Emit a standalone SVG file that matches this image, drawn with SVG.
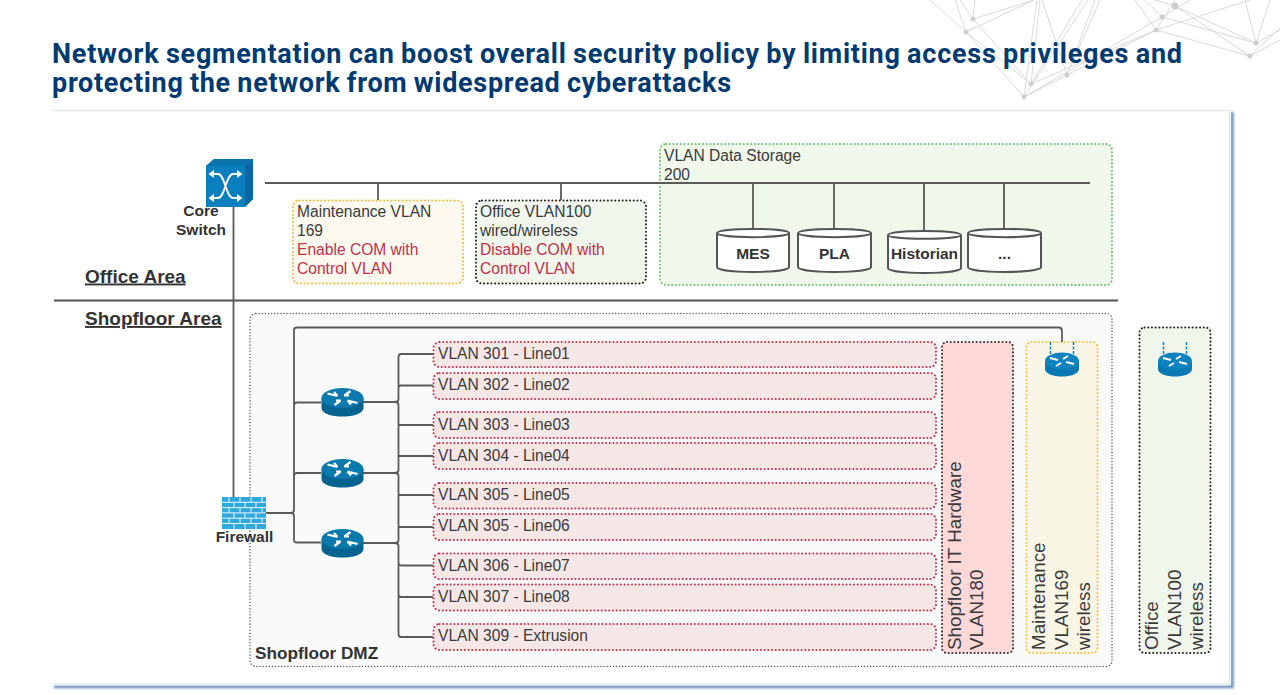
<svg xmlns="http://www.w3.org/2000/svg" width="1280" height="695" viewBox="0 0 1280 695">
<style>
text{font-family:"Liberation Sans",Arial,sans-serif;fill:#3a3a3a}
.t{font-family:Roboto,"Liberation Sans",sans-serif;font-weight:700;font-size:27px;word-spacing:-1px;fill:#003a70}
.l{font-size:15.6px}
.r{font-size:15.6px;fill:#c0304a}
.b{font-size:15.5px;font-weight:700;fill:#333;text-anchor:middle}
.a{font-size:19px;font-weight:700;fill:#333;text-decoration:underline}
.v{font-size:18.8px}
.c{fill:none;stroke:#5a5a5a;stroke-width:1.8}
.box{stroke-width:2;stroke-dasharray:.1 3.6;stroke-linecap:round}
.vl{fill:#f6e7e7;stroke:#c8324f}
.cyl{fill:#fff;stroke:#555;stroke-width:2}
.n{fill:none;stroke:#dadada;stroke-width:1}
.d{fill:#cfcfcf}
</style>
<defs>
<filter id="soft" x="-2%" y="-2%" width="104%" height="104%"><feGaussianBlur stdDeviation="1"/></filter>
<g id="router">
<path d="M-21 -4V6C-21 12 -10 14.500 0 14.500S21 12 21 6V-4Z" fill="#05648f"/>
<ellipse cx="0" cy="-4" rx="21" ry="10" fill="#0a79ab"/>
<path d="M-15 -8.500L-5 -6M-8.500 -10L-5 -6M15 1L5 -1.500M8.500 2.500L5 -1.500M-8 3L-2 -1.500M-6.500 -1.500L-1.500 -1.500M8 -11L2 -6.500M6.500 -6.500L1.500 -6.500" stroke="#fff" stroke-width="2.200" fill="none"/>
</g>
<g id="wrouter">
<path d="M-11.500 -24V-12M11.500 -24V-12" stroke="#0d7fba" stroke-width="1.500" stroke-dasharray="3 1.500"/>
<path d="M-17 -4V3C-17 8 -8 10.500 0 10.500S17 8 17 3V-4Z" fill="#0a78b2"/>
<ellipse cx="0" cy="-5" rx="17" ry="8.500" fill="#0d84c0"/>
<path d="M-12 -8L-4 -6M12 -2L4 -4M-6 0L-1 -3M6 -10L1 -7" stroke="#fff" stroke-width="2" fill="none"/>
</g>
</defs>

<g id="decoration">
<path class="n" d="M930 0L966 32L1024 97M966 32L1031 84M973 19L1031 84M960 0L973 19L1034 0M966 32L1034 0M955 0L966 32M975 0L973 19M1031 84L1040 0M1024 97L1037 0M1024 97L1067 75L1156 30M1031 84L1156 30L1250 0M1024 97L1162 17M1067 75L1042 0M1067 75L1095 0M1067 75L1100 0M1024 97L1088 0M1031 84L1082 0M1156 30L1135 0M1156 30L1175 0M1162 17L1145 0M1162 17L1190 0M1175 6L1155 0M1175 6L1256 43M1156 30L1250 56L1280 40M1162 17L1256 43L1280 30M1175 6L1250 56M1256 43L1245 0M1256 43L1270 0M1250 56L1280 28"/>
<g class="d"><circle cx="966" cy="32" r="2.500"/><circle cx="973" cy="19" r="2.500"/><circle cx="1031" cy="84" r="2.500"/><circle cx="1024" cy="97" r="2.500"/><circle cx="1067" cy="75" r="2.500"/><circle cx="1156" cy="30" r="2.500"/><circle cx="1162" cy="17" r="2.500"/><circle cx="1175" cy="6" r="3.500"/><circle cx="1256" cy="43" r="2.500"/><circle cx="1250" cy="56" r="2.500"/></g>
</g>

<g id="title">
<text class="t" x="52" y="62.500" textLength="1130" lengthAdjust="spacing">Network segmentation can boost overall security policy by limiting access privileges and</text>
<text class="t" x="52" y="91.500" textLength="679" lengthAdjust="spacing">protecting the network from widespread cyberattacks</text>
</g>

<g id="panel">
<path d="M1232 112V686.500H54" stroke="#6f93b8" stroke-width="3.500" fill="none" filter="url(#soft)"/>
<path d="M52 110.500H1230" stroke="#e4e9ef" stroke-width="1.500" fill="none"/>
<path d="M1230.500 110V685H52" stroke="#fff" stroke-width="1" fill="none"/>
</g>

<g id="area-divider"><path d="M54 300.500H1118" stroke="#555" stroke-width="2" fill="none"/></g>
<g id="office-area"><text class="a" x="85" y="282.500">Office Area</text></g>
<g id="shopfloor-area"><text class="a" x="85" y="325">Shopfloor Area</text></g>

<g id="maintenance-vlan">
<rect class="box" x="293" y="200.500" width="170" height="83" rx="6" fill="#fef9ef" stroke="#f5b93c"/>
<text class="l" x="297" y="217">Maintenance VLAN</text><text class="l" x="297" y="236">169</text>
<text class="r" x="297" y="255">Enable COM with</text><text class="r" x="297" y="273.500">Control VLAN</text>
</g>
<g id="office-vlan">
<rect class="box" x="476" y="200.500" width="170" height="83" rx="6" fill="#f0f6ec" stroke="#222"/>
<text class="l" x="480" y="217">Office VLAN100</text><text class="l" x="480" y="236">wired/wireless</text>
<text class="r" x="480" y="255">Disable COM with</text><text class="r" x="480" y="273.500">Control VLAN</text>
</g>
<g id="data-storage">
<rect class="box" x="660" y="144" width="452" height="141" rx="6" fill="#f0f8ec" stroke="#6cc070"/>
<text class="l" x="664" y="161">VLAN Data Storage</text><text class="l" x="664" y="179.500">200</text>
</g>
<g id="dmz">
<rect x="250" y="313.500" width="862" height="353" rx="6" fill="#fafafa" stroke="#666" stroke-width="1.500" stroke-dasharray=".1 3" stroke-linecap="round"/>
<text x="255" y="658.500" style="font-size:17.200px;font-weight:700;fill:#333">Shopfloor DMZ</text>
</g>

<g id="vlan301"><rect class="box vl" x="433.500" y="342" width="502.500" height="25" rx="6"/><text class="l" x="438" y="359">VLAN 301 - Line01</text></g>
<g id="vlan302"><rect class="box vl" x="433.500" y="373" width="502.500" height="26" rx="6"/><text class="l" x="438" y="390">VLAN 302 - Line02</text></g>
<g id="vlan303"><rect class="box vl" x="433.500" y="412" width="502.500" height="26" rx="6"/><text class="l" x="438" y="429.500">VLAN 303 - Line03</text></g>
<g id="vlan304"><rect class="box vl" x="433.500" y="443" width="502.500" height="26" rx="6"/><text class="l" x="438" y="460.500">VLAN 304 - Line04</text></g>
<g id="vlan305a"><rect class="box vl" x="433.500" y="483" width="502.500" height="25.500" rx="6"/><text class="l" x="438" y="499.500">VLAN 305 - Line05</text></g>
<g id="vlan305b"><rect class="box vl" x="433.500" y="514" width="502.500" height="26" rx="6"/><text class="l" x="438" y="530.500">VLAN 305 - Line06</text></g>
<g id="vlan306"><rect class="box vl" x="433.500" y="553.500" width="502.500" height="25.500" rx="6"/><text class="l" x="438" y="570.500">VLAN 306 - Line07</text></g>
<g id="vlan307"><rect class="box vl" x="433.500" y="584.500" width="502.500" height="26" rx="6"/><text class="l" x="438" y="601.500">VLAN 307 - Line08</text></g>
<g id="vlan309"><rect class="box vl" x="433.500" y="624" width="502.500" height="26" rx="6"/><text class="l" x="438" y="640.500">VLAN 309 - Extrusion</text></g>

<g id="it-hardware">
<rect class="box" x="942" y="342" width="71" height="311" rx="5" fill="#ffd8d8" stroke="#333"/>
<text class="v" transform="translate(961 650) rotate(-90)">Shopfloor IT Hardware</text>
<text class="v" transform="translate(983 650) rotate(-90)">VLAN180</text>
</g>
<g id="maintenance-wireless">
<rect class="box" x="1026.500" y="342" width="71" height="311" rx="5" fill="#faf6e6" stroke="#f5c242"/>
<text class="v" transform="translate(1045 650) rotate(-90)">Maintenance</text>
<text class="v" transform="translate(1067.500 650) rotate(-90)">VLAN169</text>
<text class="v" transform="translate(1090 650) rotate(-90)">wireless</text>
</g>
<g id="office-wireless">
<rect class="box" x="1139.500" y="327.500" width="71" height="325.500" rx="5" fill="#f0f6ec" stroke="#222"/>
<text class="v" transform="translate(1158 650) rotate(-90)">Office</text>
<text class="v" transform="translate(1180.500 650) rotate(-90)">VLAN100</text>
<text class="v" transform="translate(1203 650) rotate(-90)">wireless</text>
</g>

<g id="connectors">
<path class="c" d="M233.500 207V497"/>
<path class="c" d="M265 183H1090M378 183V200M561 183V200M753 183V229M834 183V229M924 183V231M1004 183V229"/>
<path class="c" d="M266 513H291Q294 513 294 510V330Q294 327.500 297 327.500H1059Q1062 327.500 1062 331V342"/>
<path class="c" d="M294 405Q294 402.500 297 402.500H321M294 476Q294 473 297 473H321M291 513Q294 513 294 516V540Q294 542.500 297 542.500H321"/>
<path class="c" d="M363 402H395Q398.500 402 398.500 399V357Q398.500 354 401 354H433M398.500 388Q398.500 385.500 401 385.500H433"/>
<path class="c" d="M395 402Q398.500 402 398.500 405V470Q398.500 473 395 473H363M398.500 425H433M398.500 456H433"/>
<path class="c" d="M395 473Q398.500 473 398.500 476V540Q398.500 543 395 543H363M398.500 495H433M398.500 527H433"/>
<path class="c" d="M395 543Q398.500 543 398.500 546V634Q398.500 637 401 637H433M398.500 562Q398.500 565.500 401 565.500H433M398.500 594Q398.500 597 401 597H433"/>
</g>

<g id="core-switch">
<path d="M206 166L214 159H253V199L245 207H206Z" fill="#0a7fbd"/>
<path d="M245 166L253 159V199L245 207Z" fill="#0a689c"/>
<path d="M206 166L214 159H253L245 166Z" fill="#0b74ad"/>
<path d="M210 174H218C225 174 226 198 233 198H241M241 174H233C226 174 225 198 218 198H210" stroke="#fff" stroke-width="1.800" fill="none"/>
<path d="M214 170L208.500 174L214 178M237 170L242.500 174L237 178M214 194L208.500 198L214 202M237 194L242.500 198L237 202" fill="#fff"/>
<text class="b" x="201" y="216">Core</text><text class="b" x="201" y="235">Switch</text>
</g>

<g id="db-mes"><path class="cyl" d="M717 233C717 227.500 789 227.500 789 233V267C789 273.500 717 273.500 717 267Z"/><path class="cyl" fill="none" d="M717 233C717 238.500 789 238.500 789 233"/><text class="b" x="753" y="259">MES</text></g>
<g id="db-pla"><path class="cyl" d="M798 233C798 227.500 871 227.500 871 233V267C871 273.500 798 273.500 798 267Z"/><path class="cyl" fill="none" d="M798 233C798 238.500 871 238.500 871 233"/><text class="b" x="834.500" y="259">PLA</text></g>
<g id="db-historian"><path class="cyl" d="M888 235C888 229.500 961 229.500 961 235V268C961 274.500 888 274.500 888 268Z"/><path class="cyl" fill="none" d="M888 235C888 240 961 240 961 235"/><text class="b" x="924.500" y="259">Historian</text></g>
<g id="db-more"><path class="cyl" d="M968 233C968 227.500 1041 227.500 1041 233V267C1041 273.500 968 273.500 968 267Z"/><path class="cyl" fill="none" d="M968 233C968 238.500 1041 238.500 1041 233"/><text class="b" x="1004.500" y="259">...</text></g>

<g id="router-1"><use href="#router" transform="translate(342.500 402)"/></g>
<g id="router-2"><use href="#router" transform="translate(342.500 473)"/></g>
<g id="router-3"><use href="#router" transform="translate(342.500 543)"/></g>
<g id="wireless-router-1"><use href="#wrouter" transform="translate(1062 366)"/></g>
<g id="wireless-router-2"><use href="#wrouter" transform="translate(1175 366)"/></g>

<g id="firewall">
<rect x="222" y="497" width="44" height="32" fill="#2fa8de"/>
<path d="M222 502.300H266M222 507.600H266M222 512.900H266M222 518.200H266M222 523.500H266M229 497V502.300M240 497V502.300M251 497V502.300M262 497V502.300M234 502.300V507.600M245 502.300V507.600M256 502.300V507.600M229 507.600V512.900M240 507.600V512.900M251 507.600V512.900M262 507.600V512.900M234 512.900V518.200M245 512.900V518.200M256 512.900V518.200M229 518.200V523.500M240 518.200V523.500M251 518.200V523.500M262 518.200V523.500M234 523.500V529M245 523.500V529M256 523.500V529" stroke="#e8f6fc" stroke-width="1" fill="none"/>
<text class="b" x="244.500" y="542">Firewall</text>
</g>
</svg>
